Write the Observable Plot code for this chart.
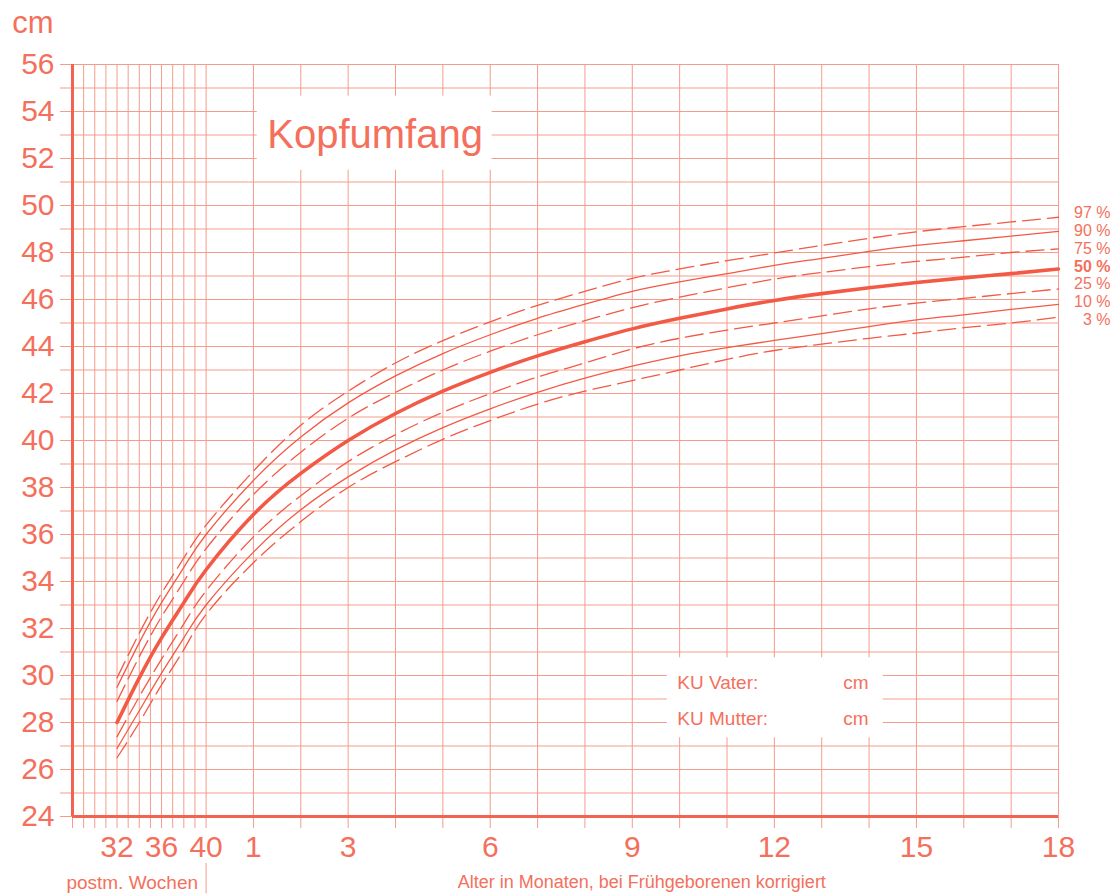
<!DOCTYPE html>
<html><head><meta charset="utf-8">
<script src="https://cdn.jsdelivr.net/npm/d3@7"></script>
<script src="https://cdn.jsdelivr.net/npm/@observablehq/plot@0.6"></script>
<style>html,body{margin:0;padding:0;background:#fff;} svg{display:block;}</style>
</head><body><div id="chart"></div>
<script>
// ---- data ----
const weeksPerMonth = 4.254;            // horizontal scale of the chart: weeks per month
const pretermWeeks = [32, 34, 36, 38];  // postmenstrual weeks (40 = birth at term = month 0)
const months = [0, 1, 2, 3, 4, 5, 6, 7, 8, 9, 10, 11, 12, 13, 14, 15, 16, 17, 18];

const p97 = [29.9, 31.8, 33.5, 35.0, 36.4, 38.7, 40.65, 42.1, 43.3, 44.25, 45.05, 45.75, 46.35, 46.9, 47.3, 47.65, 47.98, 48.3, 48.6, 48.88, 49.1, 49.3, 49.5];
const p90 = [29.5, 31.4, 33.1, 34.6, 36.0, 38.3, 40.15, 41.6, 42.75, 43.7, 44.5, 45.2, 45.8, 46.35, 46.75, 47.1, 47.45, 47.75, 48.05, 48.3, 48.5, 48.7, 48.9];
const p75 = [28.9, 30.8, 32.5, 34.0, 35.4, 37.7, 39.5, 40.95, 42.05, 43.0, 43.8, 44.5, 45.1, 45.65, 46.1, 46.5, 46.87, 47.15, 47.4, 47.62, 47.8, 48.0, 48.15];
const p50 = [28.0, 29.9, 31.6, 33.1, 34.5, 36.85, 38.6, 40.0, 41.15, 42.1, 42.9, 43.6, 44.2, 44.75, 45.2, 45.6, 45.96, 46.25, 46.5, 46.72, 46.92, 47.1, 47.3];
const p25 = [27.4, 29.1, 30.7, 32.2, 33.6, 35.9, 37.65, 39.1, 40.25, 41.2, 42.0, 42.7, 43.3, 43.9, 44.35, 44.7, 45.0, 45.3, 45.6, 45.85, 46.05, 46.25, 46.45];
const p10 = [26.9, 28.5, 30.1, 31.6, 33.0, 35.25, 37.05, 38.45, 39.6, 40.55, 41.35, 42.05, 42.65, 43.16, 43.6, 43.95, 44.26, 44.55, 44.85, 45.13, 45.35, 45.58, 45.79];
const p3  = [26.5, 28.0, 29.6, 31.1, 32.6, 34.8, 36.55, 38.0, 39.1, 40.05, 40.85, 41.55, 42.1, 42.55, 43.0, 43.45, 43.83, 44.1, 44.35, 44.57, 44.8, 45.0, 45.25];

const percentileNames = ["97 %", "90 %", "75 %", "50 %", "25 %", "10 %", "3 %"];
const percentileDashed = [true, false, true, false, true, false, true];

const gridWeeks = [28, 29, 30, 31, 32, 33, 34, 35, 36, 37, 38, 39, 40];
const gridMonths = [1, 2, 3, 4, 5, 6, 7, 8, 9, 10, 11, 12, 13, 14, 15, 16, 17, 18];
const weekTickLabels = [32, 36, 40];
const monthTickLabels = [1, 3, 6, 9, 12, 15, 18];
const yTickLabels = [24, 26, 28, 30, 32, 34, 36, 38, 40, 42, 44, 46, 48, 50, 52, 54, 56];
const yGrid = d3.range(24, 57);

// ---- build tables ----
const wk = w => (w - 40) / weeksPerMonth;
const ages = [...pretermWeeks.map(wk), ...months];
const seriesVals = [p97, p90, p75, p50, p25, p10, p3];
const rows = [];
seriesVals.forEach((vals, s) => vals.forEach((v, i) => rows.push({age: ages[i], cm: v, p: percentileNames[s], s})));
const median = p50[p50.length - 1];
const endLabels = percentileNames.map((p, i) => ({p, i, cm: median}));
const gridX = [...gridWeeks.map(wk), ...gridMonths];
const xLabels = [...weekTickLabels.map(w => ({x: wk(w), t: String(w)})), ...monthTickLabels.map(m => ({x: m, t: String(m)}))];

const textColor = "#f4705c";
const lineColor = "#f25a45";
const gridColor = "#f59c8b";
const axisColor = "#f2644f";
const font = "'Liberation Sans', Arial, Helvetica, sans-serif";

const curveMarks = seriesVals.map((vals, s) => Plot.line(rows.filter(r => r.s === s), {
  x: "age", y: "cm", curve: "natural",
  stroke: lineColor,
  strokeWidth: s === 3 ? 3.6 : 1.3,
  strokeDasharray: percentileDashed[s] ? "18,7" : null
}));

const labelStep = 17.8; // px between the percentile labels at the right edge

const chart = Plot.plot({
  width: 1112, height: 895,
  marginLeft: 72, marginRight: 54, marginTop: 64, marginBottom: 79,
  x: {domain: [wk(28), 18], label: null},
  y: {domain: [24, 56], label: null},
  style: {fontFamily: font, color: textColor, background: "white", overflow: "visible"},
  marks: [
    Plot.ruleY(yGrid, {stroke: gridColor, strokeWidth: 1}),
    Plot.ruleX(gridX, {stroke: gridColor, strokeWidth: 1}),
    Plot.axisY({ticks: yGrid, tickSize: 12, tickFormat: () => "", stroke: gridColor}),
    Plot.axisY({ticks: yTickLabels, tickSize: 0, tickPadding: 18, fontSize: 30, color: textColor}),
    Plot.axisX({ticks: [wk(28), ...gridX], tickSize: 12, tickFormat: () => "", stroke: gridColor}),
    Plot.ruleX([0], {y1: 22.0, y2: 20.7, stroke: gridColor, strokeWidth: 1}),
    Plot.text(xLabels, {x: "x", y: () => 24, text: "t", dy: 31, fontSize: 30, fill: textColor}),
    Plot.text(["postm. Wochen"], {x: -1.56, y: () => 24, dy: 66, fontSize: 19, fill: textColor}),
    Plot.text(["Alter in Monaten, bei Frühgeborenen korrigiert"], {x: 9.2, y: () => 24, dy: 66, fontSize: 18, fill: textColor}),
    Plot.text(["cm"], {frameAnchor: "top-left", dx: -19, dy: -54, textAnchor: "end", fontSize: 31, fill: textColor}),
    // label boxes
    Plot.rect([0], {x1: 1.08, x2: 6.04, y1: 51.5, y2: 54.65, fill: "white"}),
    Plot.text(["Kopfumfang"], {x: 1.08, y: () => 53.0, dx: 10, textAnchor: "start", fontSize: 40, fill: textColor}),
    Plot.rect([0], {x1: 9.74, x2: 14.3, y1: 27.35, y2: 30.75, fill: "white"}),
    Plot.text(["KU Vater:"], {x: 9.74, y: () => 29.7, dx: 10, textAnchor: "start", fontSize: 19, fill: textColor}),
    Plot.text(["cm"], {x: 9.74, y: () => 29.7, dx: 176, textAnchor: "start", fontSize: 19, fill: textColor}),
    Plot.text(["KU Mutter:"], {x: 9.74, y: () => 28.15, dx: 10, textAnchor: "start", fontSize: 19, fill: textColor}),
    Plot.text(["cm"], {x: 9.74, y: () => 28.15, dx: 176, textAnchor: "start", fontSize: 19, fill: textColor}),
    // axes lines
    Plot.ruleX([wk(28)], {y1: 24, y2: 56, stroke: axisColor, strokeWidth: 3}),
    Plot.ruleY([24], {x1: wk(28), x2: 18, stroke: axisColor, strokeWidth: 3}),
    ...curveMarks,
    ...endLabels.map(d => Plot.text([d], {
      x: () => 18, y: "cm", text: "p", dx: 52, dy: (d.i - 3) * labelStep - 2.5,
      textAnchor: "end", fontSize: 16, fill: textColor, fontWeight: d.i === 3 ? "bold" : "normal"
    }))
  ]
});
document.getElementById("chart").appendChild(chart);
</script>
</body></html>
